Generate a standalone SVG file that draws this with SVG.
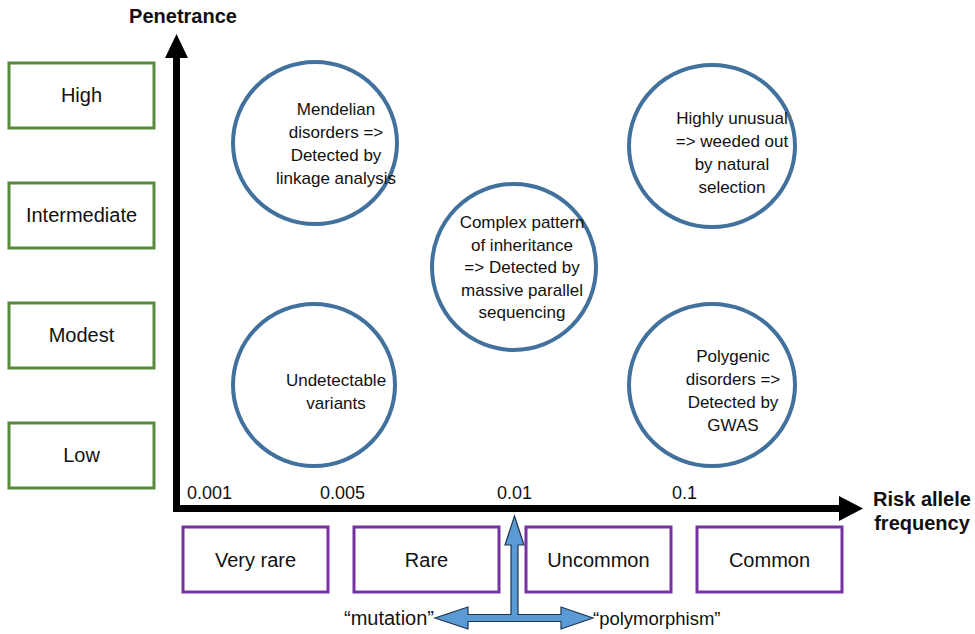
<svg xmlns="http://www.w3.org/2000/svg" width="975" height="634" viewBox="0 0 975 634">
<style>
text{font-family:"Liberation Sans",Arial,sans-serif;fill:#111;}
.lvl{fill:#fff;stroke:#5b8b3c;stroke-width:3;}
.frq{fill:#fff;stroke:#7432a2;stroke-width:3;}
.ell{fill:#fff;stroke:#41719c;stroke-width:4;}
.bt{font-size:20px;text-anchor:middle;}
.et{font-size:17px;text-anchor:middle;}
.ax{font-size:18px;}
.ttl{font-size:20px;font-weight:bold;}
</style>
<rect width="975" height="634" fill="#fff"/>
<g id="connectors">
<path d="M176.5,57 L176.5,508.5 L841,508.5" fill="none" stroke="#000" stroke-width="7" stroke-linejoin="miter"/>
<polygon points="165,58 188,58 176.5,34" fill="#000"/>
<polygon points="839,496 839,521 863,508.5" fill="#000"/>
<polygon points="514.5,516 524,545 518,545 518,614.5 561,614.5 561,607 593,618 561,629 561,621.5 468,621.5 468,629 435,618 468,607 468,614.5 511,614.5 511,545 505,545" fill="#5b9bd5" stroke="#1f3550" stroke-width="1.2" stroke-linejoin="miter"/>
</g>
<g id="axis-labels">
<text class="ttl" x="183" y="23" text-anchor="middle">Penetrance</text>
<text class="ttl" x="922" y="506" text-anchor="middle">Risk allele</text>
<text class="ttl" x="922" y="530" text-anchor="middle">frequency</text>
<text class="ax" x="187" y="499">0.001</text>
<text class="ax" x="320" y="499">0.005</text>
<text class="ax" x="497" y="499">0.01</text>
<text class="ax" x="672" y="499">0.1</text>
<text class="bt" x="434" y="625" style="text-anchor:end">“mutation”</text>
<text class="bt" x="593" y="625" style="text-anchor:start;font-size:18.5px">“polymorphism”</text>
</g>
<g id="high"><rect class="lvl" x="9" y="63" width="145" height="65"/><text class="bt" x="81.5" y="102">High</text></g>
<g id="intermediate"><rect class="lvl" x="9" y="183" width="145" height="65"/><text class="bt" x="81.5" y="222">Intermediate</text></g>
<g id="modest"><rect class="lvl" x="9" y="303" width="145" height="65"/><text class="bt" x="81.5" y="342">Modest</text></g>
<g id="low"><rect class="lvl" x="9" y="423" width="145" height="65"/><text class="bt" x="81.5" y="462">Low</text></g>
<g id="very-rare"><rect class="frq" x="183" y="527" width="145" height="65"/><text class="bt" x="255.5" y="567">Very rare</text></g>
<g id="rare"><rect class="frq" x="354" y="527" width="145" height="65"/><text class="bt" x="426.5" y="567">Rare</text></g>
<g id="uncommon"><rect class="frq" x="526" y="527" width="145" height="65"/><text class="bt" x="598.5" y="567">Uncommon</text></g>
<g id="common"><rect class="frq" x="697" y="527" width="145" height="65"/><text class="bt" x="769.5" y="567">Common</text></g>
<g id="mendelian"><ellipse class="ell" cx="315" cy="143" rx="82" ry="81"/>
<text class="et" x="336" y="115"><tspan x="336">Mendelian</tspan><tspan x="336" dy="23">disorders =&gt;</tspan><tspan x="336" dy="23">Detected by</tspan><tspan x="336" dy="23">linkage analysis</tspan></text></g>
<g id="highly-unusual"><ellipse class="ell" cx="712" cy="146" rx="83" ry="81"/>
<text class="et" x="732" y="124"><tspan x="732">Highly unusual</tspan><tspan x="732" dy="23">=&gt; weeded out</tspan><tspan x="732" dy="23">by natural</tspan><tspan x="732" dy="23">selection</tspan></text></g>
<g id="complex"><ellipse class="ell" cx="514" cy="267" rx="82" ry="83"/>
<text class="et" x="522" y="228"><tspan x="522">Complex pattern</tspan><tspan x="522" dy="22.5">of inheritance</tspan><tspan x="522" dy="22.5">=&gt; Detected by</tspan><tspan x="522" dy="22.5">massive parallel</tspan><tspan x="522" dy="22.5">sequencing</tspan></text></g>
<g id="undetectable"><ellipse class="ell" cx="314" cy="385" rx="81" ry="81"/>
<text class="et" x="336" y="386"><tspan x="336">Undetectable</tspan><tspan x="336" dy="23">variants</tspan></text></g>
<g id="polygenic"><ellipse class="ell" cx="712" cy="385" rx="83" ry="81"/>
<text class="et" x="733" y="362"><tspan x="733">Polygenic</tspan><tspan x="733" dy="23">disorders =&gt;</tspan><tspan x="733" dy="23">Detected by</tspan><tspan x="733" dy="23">GWAS</tspan></text></g>
</svg>
